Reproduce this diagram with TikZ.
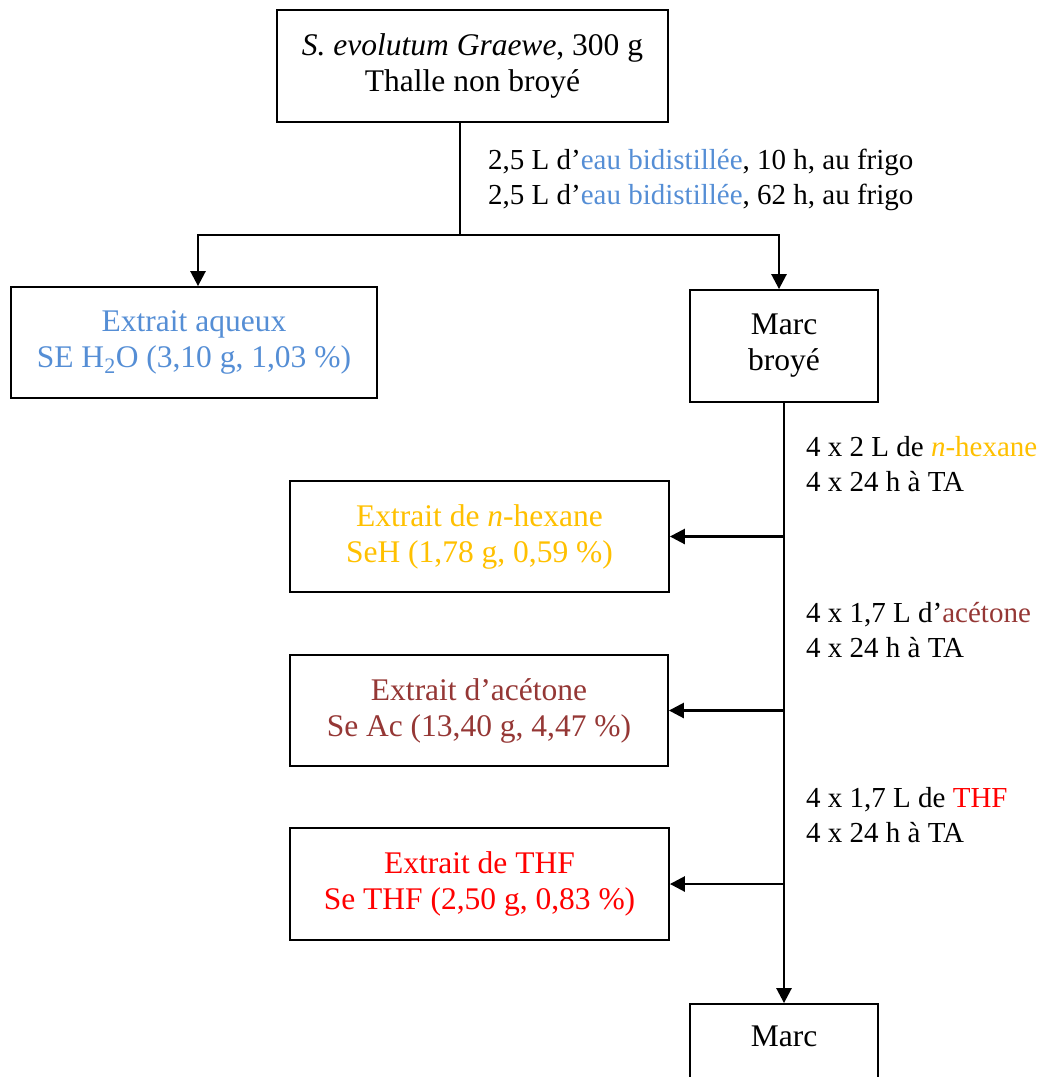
\documentclass[tikz,border=0pt]{standalone}
\usepackage{fontspec}
\setmainfont{Liberation Serif}
\usetikzlibrary{arrows.meta}
\definecolor{cblue}{HTML}{558ED5}
\definecolor{corange}{HTML}{FFC000}
\definecolor{cbrown}{HTML}{953735}
\definecolor{cred}{HTML}{FF0000}
\begin{document}
\begin{tikzpicture}[x=1pt,y=-1pt,
  box/.style={draw,line width=1.8pt,align=center,inner sep=0pt,
    font=\fontsize{31.5}{36}\selectfont},
  lbl/.style={anchor=west,align=left,inner sep=0pt,
    font=\fontsize{29}{35}\selectfont},
  conn/.style={line width=2.6pt},
  arr/.style={conn,-{Triangle[length=15pt,width=15pt]}}]
\useasboundingbox (0,0) rectangle (1045,1077);
\clip (0,0) rectangle (1045,1077);

\node[box,minimum width=391pt,minimum height=112pt] (top) at (472.5,66)
  {\textit{S. evolutum Graewe}, 300 g\\Thalle non broyé};
\node[box,minimum width=366pt,minimum height=111pt,text=cblue] (aq) at (194,342.5)
  {Extrait aqueux\\SE H\textsubscript{2}O (3,10 g, 1,03 \%)};
\node[box,minimum width=188pt,minimum height=112pt] (mb) at (784,346)
  {Marc\\broyé};
\node[box,minimum width=379pt,minimum height=111pt,text=corange] (hex) at (479.5,536.5)
  {Extrait de \textit{n}-hexane\\SeH (1,78 g, 0,59 \%)};
\node[box,minimum width=378pt,minimum height=111pt,text=cbrown] (ace) at (479,710.5)
  {Extrait d’acétone\\Se Ac (13,40 g, 4,47 \%)};
\node[box,minimum width=379pt,minimum height=112pt,text=cred] (thf) at (479.5,884)
  {Extrait de THF\\Se THF (2,50 g, 0,83 \%)};
\node[box,minimum width=188pt,minimum height=112pt] (marc) at (784,1060)
  {Marc\\[12pt]~};

\node[lbl] (l1) at (488,180)
  {2,5 L d’\textcolor{cblue}{eau bidistillée}, 10 h, au frigo\\
   2,5 L d’\textcolor{cblue}{eau bidistillée}, 62 h, au frigo};
\node[lbl] (l2) at (806,464)
  {4 x 2 L de \textcolor{corange}{\textit{n}-hexane}\\4 x 24 h à TA};
\node[lbl] (l3) at (806,630)
  {4 x 1,7 L d’\textcolor{cbrown}{acétone}\\4 x 24 h à TA};
\node[lbl] (l4) at (806,815)
  {4 x 1,7 L de \textcolor{cred}{THF}\\4 x 24 h à TA};

\coordinate (t0) at (460,122);
\coordinate (split) at (460,235);
\draw[conn] (t0) -- (split);
\draw[arr] (split) -| ([xshift=4pt]aq.north);
\draw[arr] (split) -| ([xshift=-5pt]mb.north);
\draw[arr] (mb.south) -- (marc.north);
\coordinate (b1) at (mb.south |- hex.east);
\coordinate (b2) at (mb.south |- ace.east);
\coordinate (b3) at (mb.south |- thf.east);
\draw[arr] (b1) -- (hex.east);
\draw[arr] (b2) -- (ace.east);
\draw[arr] (b3) -- (thf.east);
\end{tikzpicture}
\end{document}
